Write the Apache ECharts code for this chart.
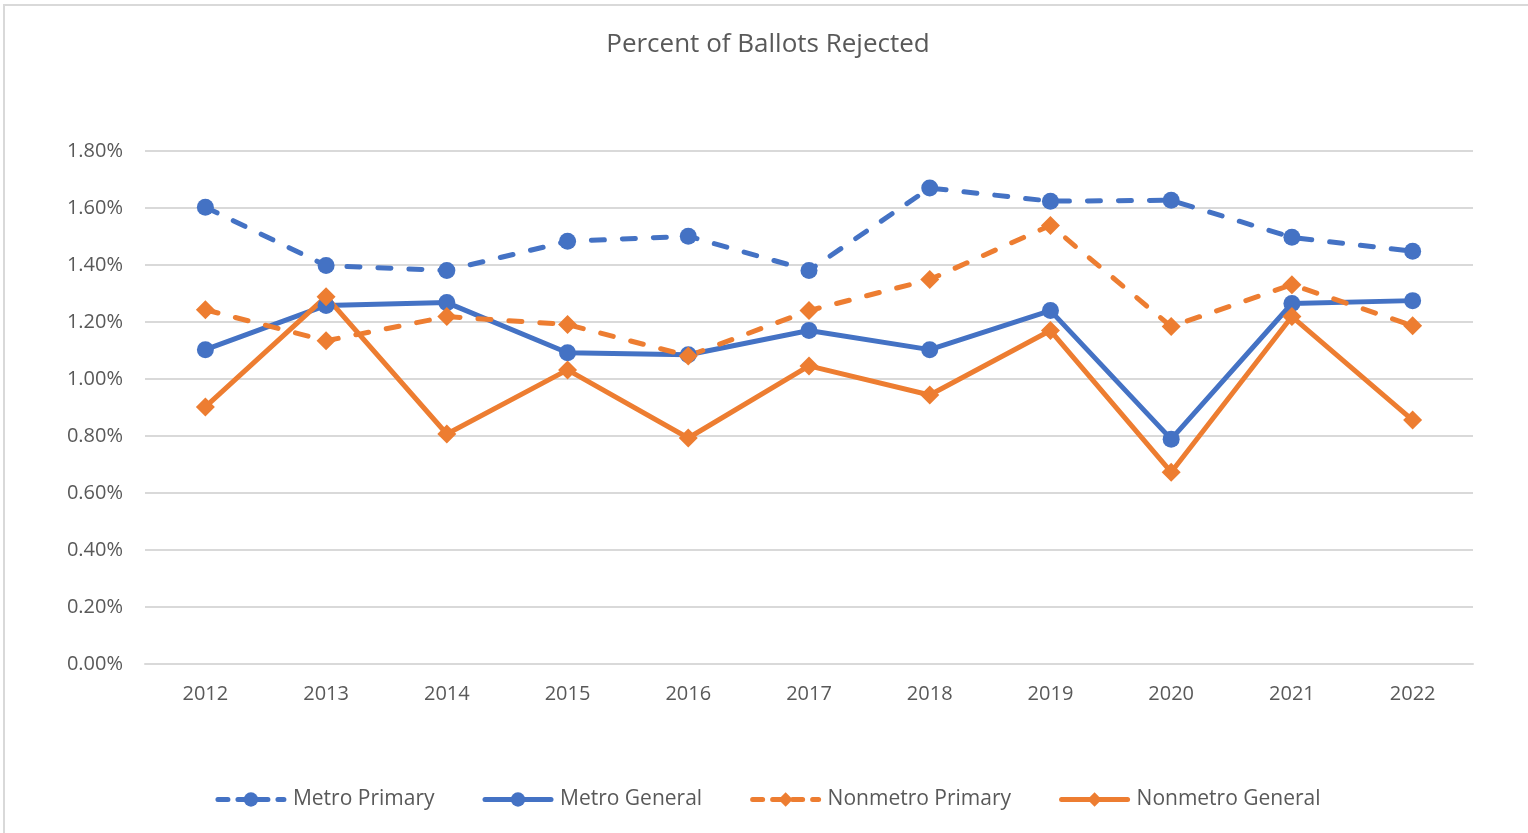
<!DOCTYPE html>
<html>
<head>
<meta charset="utf-8">
<script src="https://cdn.jsdelivr.net/npm/echarts@6/dist/echarts.min.js"></script>
<style>
    html, body { margin: 0; padding: 0; background: #fff; }
    #chart {
        position: absolute;
        left: 3px;
        top: 4px;
        width: 1530px;
        height: 835px;
        box-sizing: border-box;
        border: 2px solid #d9d9d9;
    }
</style>
</head>
<body>
<div id="chart"></div>
<script>
// years along the x axis
const years = ['2012', '2013', '2014', '2015', '2016', '2017', '2018', '2019', '2020', '2021', '2022'];

// percent of ballots rejected
const metroPrimary = [1.603, 1.398, 1.381, 1.483, 1.501, 1.381, 1.670, 1.624, 1.627, 1.497, 1.448];
const metroGeneral = [1.103, 1.258, 1.268, 1.092, 1.085, 1.170, 1.103, 1.240, 0.789, 1.265, 1.275];
const nonmetroPrimary = [1.243, 1.134, 1.219, 1.191, 1.081, 1.240, 1.349, 1.539, 1.184, 1.331, 1.187];
const nonmetroGeneral = [0.902, 1.289, 0.807, 1.032, 0.793, 1.046, 0.944, 1.170, 0.673, 1.219, 0.856];

const BLUE = '#4472c4';
const ORANGE = '#ed7d31';
const FONT = '"Open Sans", "Liberation Sans", sans-serif';

const chart = echarts.init(document.getElementById('chart'));

function makeSeries(name, data, color, dashed, symbol) {
    return {
        name: name,
        type: 'line',
        data: data,
        symbol: symbol,
        symbolSize: symbol === 'circle' ? 17 : 19,
        lineStyle: {
            color: color,
            width: 5,
            type: dashed ? [13, 18] : 'solid',
            cap: 'round'
        },
        itemStyle: { color: color },
        emphasis: { disabled: true }
    };
}

function legendItem(name, dashed) {
    return {
        name: name,
        lineStyle: { width: 5, type: dashed ? [10, 10] : 'solid' }
    };
}

chart.setOption({
    animation: false,
    title: {
        text: 'Percent of Ballots Rejected',
        left: 'center',
        top: 21,
        textStyle: {
            fontFamily: FONT,
            fontSize: 26,
            fontWeight: 'normal',
            color: '#595959'
        }
    },
    grid: {
        left: 140,
        right: 58,
        top: 145,
        bottom: 173
    },
    legend: {
        bottom: 22,
        left: 'center',
        itemWidth: 66,
        itemHeight: 18,
        itemGap: 48,
        textStyle: {
            fontFamily: FONT,
            fontSize: 21,
            color: '#595959',
            padding: [0, 0, 0, 4]
        },
        data: [
            legendItem('Metro Primary', true),
            legendItem('Metro General', false),
            legendItem('Nonmetro Primary', true),
            legendItem('Nonmetro General', false)
        ]
    },
    xAxis: {
        type: 'category',
        data: years,
        boundaryGap: true,
        axisLine: { lineStyle: { color: '#d9d9d9', width: 2 } },
        axisTick: { show: false },
        axisLabel: {
            fontFamily: FONT,
            fontSize: 20,
            color: '#595959',
            margin: 20
        }
    },
    yAxis: {
        type: 'value',
        min: 0,
        max: 1.8,
        interval: 0.2,
        axisLine: { show: false },
        axisTick: { show: false },
        splitLine: { lineStyle: { color: '#d9d9d9', width: 2 } },
        axisLabel: {
            fontFamily: FONT,
            fontSize: 20,
            color: '#595959',
            margin: 22,
            formatter: v => v.toFixed(2) + '%'
        }
    },
    series: [
        makeSeries('Metro Primary', metroPrimary, BLUE, true, 'circle'),
        makeSeries('Metro General', metroGeneral, BLUE, false, 'circle'),
        makeSeries('Nonmetro Primary', nonmetroPrimary, ORANGE, true, 'diamond'),
        makeSeries('Nonmetro General', nonmetroGeneral, ORANGE, false, 'diamond')
    ]
});
</script>
</body>
</html>
